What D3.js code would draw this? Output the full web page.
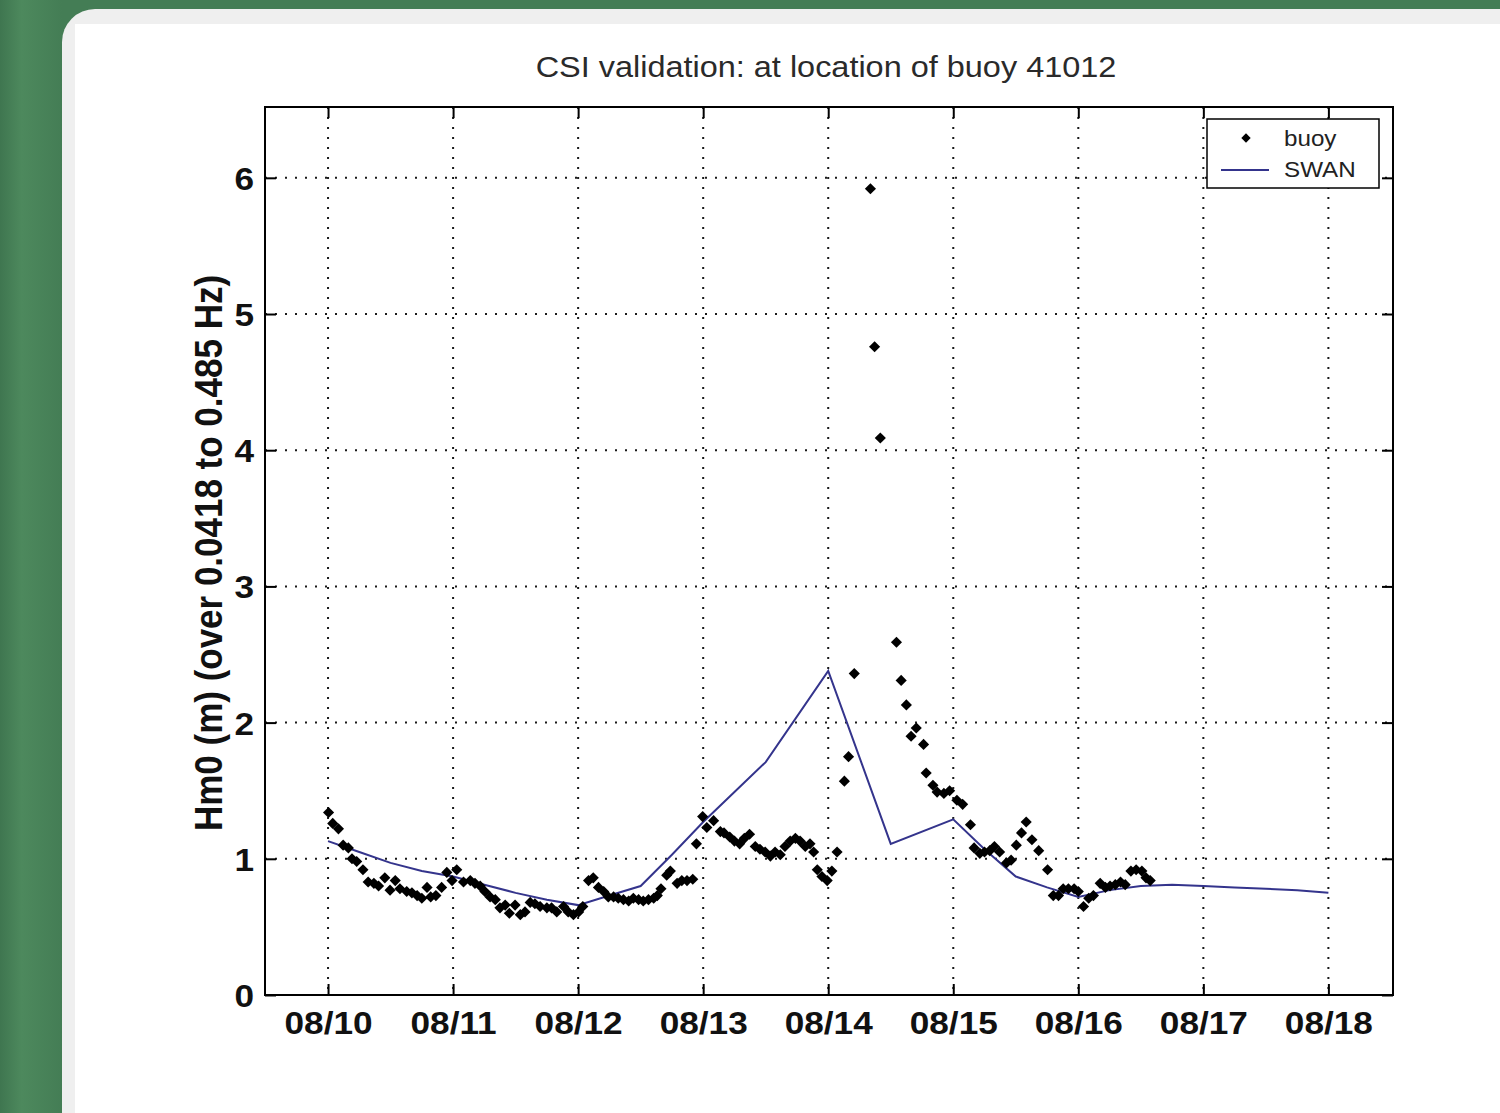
<!DOCTYPE html>
<html>
<head>
<meta charset="utf-8">
<script src="https://cdn.jsdelivr.net/npm/d3@7"></script>
<style>
  body { margin: 0; padding: 0; background: #467f57; }
  svg { display: block; }
</style>
</head>
<body>
<div id="chart"></div>
<script>
// Buoy observations: hours after 08/10 00:00 and Hm0 (m)
var buoyHours = [0.1, 0.9, 2.0, 2.9, 3.9, 4.6, 5.5, 6.7, 7.7, 8.8, 9.7, 10.9, 11.9, 12.9, 13.8, 15.1, 16.1, 17.1, 18.0, 19.0,
    19.7, 20.7, 21.8, 22.8, 23.8, 24.7, 26.0, 27.3, 28.2, 29.2, 30.1, 31.1, 32.1, 33.0, 34.0, 34.8, 35.9, 36.9, 37.8, 38.8,
    39.7, 40.7, 42.0, 42.9, 43.9, 45.2, 46.1, 47.1, 48.1, 48.9, 50.0, 50.9, 51.9, 52.9, 53.8, 54.8, 55.7, 56.7, 57.7, 58.6,
    59.6, 60.5, 61.5, 62.5, 63.2, 63.9, 65.0, 65.7, 67.0, 67.9, 68.9, 70.0, 70.7, 71.9, 72.7, 74.0, 75.3, 76.0, 77.1, 78.0,
    79.0, 79.9, 80.9, 82.0, 82.9, 83.9, 84.9, 85.8, 86.8, 87.7, 88.7, 89.7, 90.6, 91.6, 92.5, 93.2, 93.9, 94.8, 95.8, 96.7,
    97.7, 99.1, 99.9, 101.0, 104.1, 104.9, 106.0, 109.1, 110.0, 111.0, 111.9, 112.9, 114.3, 114.8, 116.1, 116.9, 118.2, 119.3, 120.7, 121.8,
    123.3, 124.0, 125.1, 126.0, 127.0, 127.9, 128.9, 130.2, 131.1, 132.1, 133.1, 134.0, 135.1, 136.4, 138.1, 139.2, 140.2, 141.1, 142.1, 143.2,
    144.0, 145.0, 146.0, 146.9, 148.2, 149.2, 150.1, 151.1, 152.1, 153.0, 154.1, 155.1, 156.2, 157.0, 157.8];
var buoyHm0 = [1.34, 1.26, 1.22, 1.10, 1.08, 1.00, 0.98, 0.92, 0.83, 0.82, 0.80, 0.86, 0.77, 0.84, 0.78, 0.76, 0.75, 0.73, 0.71, 0.79,
    0.72, 0.73, 0.79, 0.90, 0.84, 0.92, 0.83, 0.84, 0.82, 0.80, 0.76, 0.72, 0.70, 0.64, 0.66, 0.60, 0.66, 0.59, 0.61, 0.68,
    0.67, 0.65, 0.64, 0.64, 0.61, 0.65, 0.61, 0.59, 0.61, 0.65, 0.84, 0.86, 0.79, 0.76, 0.72, 0.72, 0.71, 0.70, 0.69, 0.71,
    0.70, 0.69, 0.70, 0.71, 0.73, 0.78, 0.88, 0.91, 0.82, 0.84, 0.84, 0.85, 1.11, 1.31, 1.23, 1.28, 1.20, 1.19, 1.16, 1.13,
    1.11, 1.15, 1.18, 1.09, 1.07, 1.05, 1.02, 1.05, 1.03, 1.09, 1.13, 1.15, 1.13, 1.09, 1.11, 1.05, 0.92, 0.87, 0.84, 0.91,
    1.05, 1.57, 1.75, 2.36, 5.92, 4.76, 4.09, 2.59, 2.31, 2.13, 1.90, 1.96, 1.84, 1.63, 1.54, 1.49, 1.48, 1.50, 1.43, 1.40,
    1.25, 1.08, 1.04, 1.05, 1.06, 1.09, 1.05, 0.97, 0.99, 1.10, 1.19, 1.27, 1.14, 1.06, 0.92, 0.73, 0.73, 0.78, 0.78, 0.78,
    0.76, 0.65, 0.71, 0.73, 0.82, 0.79, 0.80, 0.81, 0.83, 0.81, 0.91, 0.92, 0.91, 0.86, 0.84];

// SWAN model output
var swanHours = [0, 6, 12, 18, 24, 30, 36, 42, 48, 54, 60, 66, 72, 78, 84, 96, 108, 120, 126, 132, 138, 144, 150, 156, 162, 168, 174, 180, 186, 192];
var swanHm0 = [1.13, 1.05, 0.97, 0.91, 0.87, 0.81, 0.75, 0.70, 0.66, 0.73, 0.80, 1.03, 1.27, 1.49, 1.71, 2.38, 1.11, 1.29, 1.07, 0.87, 0.79, 0.72, 0.77, 0.80, 0.81, 0.80, 0.79, 0.78, 0.77, 0.75];

// axis ticks
var dayHours = [0, 24, 48, 72, 96, 120, 144, 168, 192];
var dayLabels = ["08/10", "08/11", "08/12", "08/13", "08/14", "08/15", "08/16", "08/17", "08/18"];
var yTicks = [0, 1, 2, 3, 4, 5, 6];

var W = 1500, H = 1113;
var plot = {left: 265, top: 107, right: 1393, bottom: 995};
var font = "'Liberation Sans', Arial, Helvetica, sans-serif";
var stretch = 1.1;

var svg = d3.select("#chart")
    .append("svg")
        .attr("width", W)
        .attr("height", H);

// page background: green border, grey rounded frame, white panel
var grad = svg.append("defs").append("linearGradient")
    .attr("id", "bg")
    .attr("gradientUnits", "userSpaceOnUse")
    .attr("x1", 0).attr("x2", 62).attr("y1", 0).attr("y2", 0);
grad.append("stop").attr("offset", "0%").attr("stop-color", "#3f7650");
grad.append("stop").attr("offset", "35%").attr("stop-color", "#4d895d");
grad.append("stop").attr("offset", "100%").attr("stop-color", "#447d55");

svg.append("rect").attr("width", W).attr("height", H).attr("fill", "url(#bg)");
svg.append("rect")
    .attr("x", 62).attr("y", 9)
    .attr("width", W).attr("height", H + 100)
    .attr("rx", 33)
    .attr("fill", "#efefef");
svg.append("rect")
    .attr("x", 75).attr("y", 24)
    .attr("width", W).attr("height", H)
    .attr("fill", "#ffffff");

var x = d3.scaleLinear()
    .domain([-12.1, 204.4])
    .range([plot.left, plot.right]);

var y = d3.scaleLinear()
    .domain([0, 6.52])
    .range([plot.bottom, plot.top]);

// dotted grid
var grid = svg.append("g")
    .attr("stroke", "#1a1a1a")
    .attr("stroke-width", 2)
    .attr("stroke-dasharray", "2,8");
grid.selectAll(".vgrid")
    .data(dayHours)
    .enter()
    .append("line")
        .attr("x1", d => x(d)).attr("x2", d => x(d))
        .attr("y1", plot.top).attr("y2", plot.bottom);
grid.selectAll(".hgrid")
    .data(yTicks.slice(1))
    .enter()
    .append("line")
        .attr("x1", plot.left).attr("x2", plot.right)
        .attr("y1", d => y(d)).attr("y2", d => y(d));

// axes (ticks pointing inward, matlab style)
var xAxis = svg.append("g")
    .attr("transform", "translate(0," + plot.bottom + ")")
    .call(d3.axisBottom(x)
        .tickValues(dayHours)
        .tickFormat((d, i) => dayLabels[i])
        .tickSize(-11)
        .tickPadding(16));
var yAxis = svg.append("g")
    .attr("transform", "translate(" + plot.left + ",0)")
    .call(d3.axisLeft(y)
        .tickValues(yTicks)
        .tickFormat(d3.format("d"))
        .tickSize(-11)
        .tickPadding(10));
svg.append("g")
    .attr("transform", "translate(0," + plot.top + ")")
    .call(d3.axisTop(x).tickValues(dayHours).tickFormat("").tickSize(-11));
svg.append("g")
    .attr("transform", "translate(" + plot.right + ",0)")
    .call(d3.axisRight(y).tickValues(yTicks).tickFormat("").tickSize(-11));

svg.selectAll(".domain").remove();
svg.selectAll(".tick line").attr("stroke", "#000").attr("stroke-width", 2);
[xAxis, yAxis].forEach(function(ax) {
    ax.selectAll("text")
        .attr("font-family", font)
        .attr("font-size", "32px")
        .attr("font-weight", "bold")
        .attr("fill", "#111")
        .attr("transform", "scale(" + stretch + ",1)");
});
yAxis.selectAll("text").attr("dy", "0.36em");

// SWAN line
var line = d3.line()
    .x((d, i) => x(swanHours[i]))
    .y(d => y(d));
svg.append("path")
    .datum(swanHm0)
    .attr("d", line)
    .attr("fill", "none")
    .attr("stroke", "#34348c")
    .attr("stroke-width", 2);

// buoy diamonds
var diamond = d3.symbol().type(d3.symbolSquare).size(62);
svg.append("g")
    .selectAll("path")
    .data(buoyHm0)
    .enter()
    .append("path")
        .attr("d", diamond)
        .attr("transform", (d, i) => "translate(" + x(buoyHours[i]) + "," + y(d) + ") rotate(45)")
        .attr("fill", "#000");

// frame
svg.append("rect")
    .attr("x", plot.left).attr("y", plot.top)
    .attr("width", plot.right - plot.left)
    .attr("height", plot.bottom - plot.top)
    .attr("fill", "none")
    .attr("stroke", "#000")
    .attr("stroke-width", 2);

// title
svg.append("text")
    .attr("transform", "translate(826,77) scale(" + stretch + ",1)")
    .attr("text-anchor", "middle")
    .attr("font-family", font)
    .attr("font-size", "29.5px")
    .attr("fill", "#2a2a2a")
    .text("CSI validation: at location of buoy 41012");

// y label
svg.append("text")
    .attr("transform", "translate(222,553) scale(1.13,1) rotate(-90)")
    .attr("text-anchor", "middle")
    .attr("font-family", font)
    .attr("font-size", "35px")
    .attr("font-weight", "bold")
    .attr("fill", "#111")
    .text("Hm0 (m) (over 0.0418 to 0.485 Hz)");

// legend
var legend = svg.append("g");
legend.append("rect")
    .attr("x", 1207).attr("y", 119)
    .attr("width", 172).attr("height", 69)
    .attr("fill", "#fff")
    .attr("stroke", "#000")
    .attr("stroke-width", 1.5);
legend.append("path")
    .attr("d", d3.symbol().type(d3.symbolSquare).size(44))
    .attr("transform", "translate(1246,138) rotate(45)")
    .attr("fill", "#000");
legend.append("line")
    .attr("x1", 1221).attr("x2", 1269)
    .attr("y1", 170).attr("y2", 170)
    .attr("stroke", "#34348c")
    .attr("stroke-width", 2);
legend.selectAll("text")
    .data(["buoy", "SWAN"])
    .enter()
    .append("text")
        .attr("transform", (d, i) => "translate(1284," + (146 + i * 31) + ") scale(" + stretch + ",1)")
        .attr("font-family", font)
        .attr("font-size", "22px")
        .attr("fill", "#222")
        .text(d => d);
</script>
</body>
</html>
